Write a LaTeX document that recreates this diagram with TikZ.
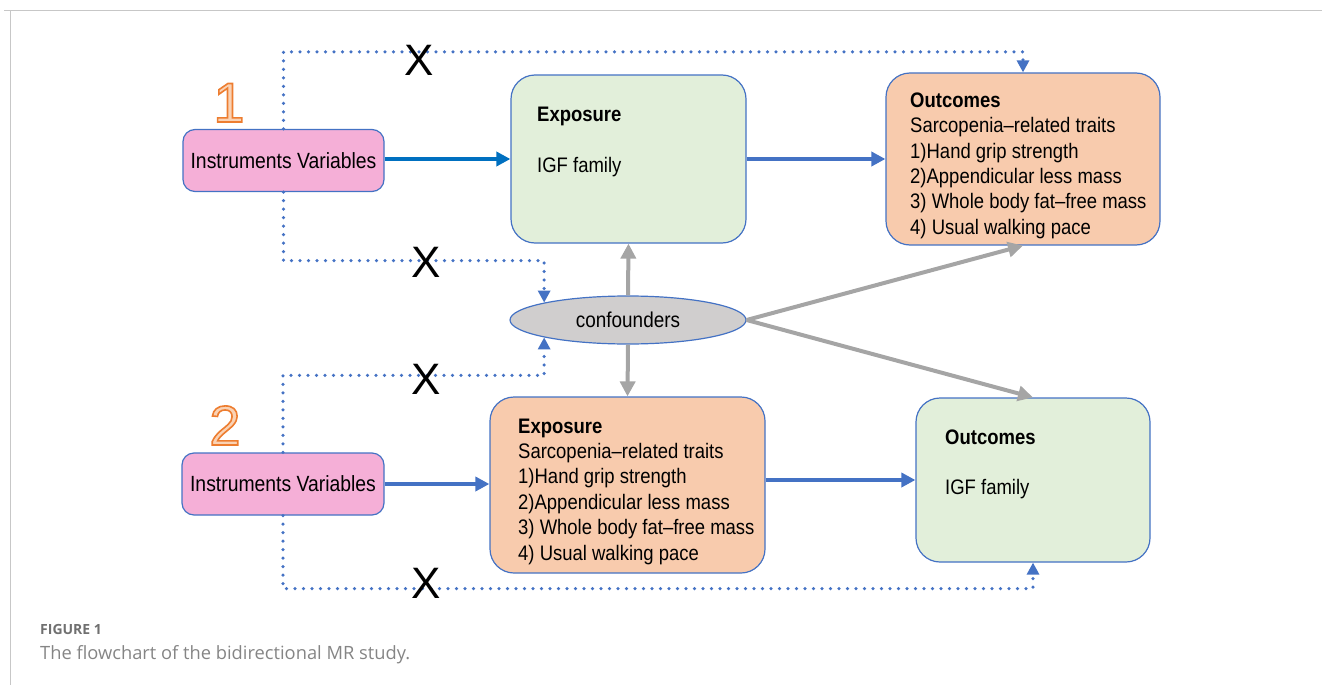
\documentclass[tikz,border=0pt]{standalone}
\usepackage{fontspec}
\usepackage{tikz}
\usetikzlibrary{shapes.geometric, arrows.meta}
\newfontfamily\boxfont[FakeStretch=0.88]{Liberation Sans}
\newfontfamily\plainsans{Liberation Sans}
\newfontfamily\capfont{Open Sans}
\definecolor{bordblue}{HTML}{4472C4}
\definecolor{ivblue}{HTML}{0070C0}
\definecolor{ivpink}{HTML}{F5AFD7}
\definecolor{boxgreen}{HTML}{E2EFDA}
\definecolor{boxpeach}{HTML}{F8CBAD}
\definecolor{confgray}{HTML}{D0CECE}
\definecolor{arrgray}{HTML}{A5A5A5}
\definecolor{numfill}{HTML}{FAD2B4}
\definecolor{capgray}{HTML}{707070}
\newcommand{\outlinenum}[1]{{\color{numfill}\special{pdf:literal direct 0.93 0.49 0.19 RG 1.6 w 2 Tr}#1\special{pdf:literal direct 0 Tr}}}
\tikzset{
  box/.style={draw=bordblue, line width=1.2pt, rounded corners=24pt, inner sep=0pt},
  ivbox/.style={draw=bordblue, line width=1.2pt, rounded corners=12pt, fill=ivpink, inner sep=0pt,
    minimum height=62pt, font={\boxfont\fontsize{22}{26}\selectfont}},
  txt/.style={inner sep=0pt, align=left, font={\boxfont\fontsize{21}{25.4}\selectfont}},
  mainarrow/.style={line width=4pt, -{Triangle[length=14pt,width=14pt]}},
  grayarrow/.style={draw=arrgray, line width=4pt, -{Triangle[length=15pt,width=15pt]}},
  dotarrow/.style={draw=bordblue, line width=3.6pt, line cap=round, dash pattern=on 0pt off 8.5pt,
    -{Triangle[length=12pt,width=12pt,line cap=butt]}},
  xmark/.style={inner sep=0pt, anchor=base, font={\plainsans\fontsize{44}{44}\selectfont}},
  numlabel/.style={inner sep=0pt, anchor=base, font={\plainsans\fontsize{56}{56}\selectfont}}
}
\begin{document}
\begin{tikzpicture}[x=1pt,y=-1pt]
\useasboundingbox (0,0) rectangle (1322,685);
% page frame
\draw[color=black!22, line width=1pt] (4,11) -- (1322,11);
\draw[color=black!22, line width=1pt] (10,11) -- (10,685);

% upper study
\node[ivbox, minimum width=201pt] (iv1) at (283.5,160.5) {Instruments Variables};
\node[numlabel] (n1) at (229,122) {\outlinenum{1}};
\node[box, fill=boxgreen, minimum width=235pt, minimum height=168pt] (ex1) at (628.5,159) {};
\node[txt, anchor=base west] (ex1head) at (537,121.5) {\textbf{Exposure}};
\node[txt, anchor=base west] (ex1txt) at (537,172.5) {IGF family};
\node[box, fill=boxpeach, minimum width=274pt, minimum height=172pt] (oc1) at (1023,159) {};
\node[txt, anchor=north west] (oc1txt) at (910,92.5) {\textbf{Outcomes}\\Sarcopenia–related traits\\1)Hand grip strength\\2)Appendicular less mass\\3) Whole body fat–free mass\\4) Usual walking pace};

% confounders
\node[ellipse, draw=bordblue, line width=1.2pt, fill=confgray, minimum width=236pt, minimum height=48pt,
  inner sep=0pt, font={\boxfont\fontsize{21.5}{24}\selectfont}] (conf) at (628,320) {confounders};

% lower study
\node[ivbox, minimum width=202pt] (iv2) at (283,484) {Instruments Variables};
\node[numlabel] (n2) at (225,445) {\outlinenum{2}};
\node[box, fill=boxpeach, minimum width=275pt, minimum height=176pt] (ex2) at (627.5,485) {};
\node[txt, anchor=north west] (ex2txt) at (518,418.5) {\textbf{Exposure}\\Sarcopenia–related traits\\1)Hand grip strength\\2)Appendicular less mass\\3) Whole body fat–free mass\\4) Usual walking pace};
\node[box, fill=boxgreen, minimum width=234pt, minimum height=164pt] (oc2) at (1033,480) {};
\node[txt, anchor=base west] (oc2head) at (945,444.5) {\textbf{Outcomes}};
\node[txt, anchor=base west] (oc2txt) at (945,494.5) {IGF family};

% causal paths
\draw[mainarrow, draw=ivblue] (iv1.east |- ex1.west) -- (ex1.west);
\draw[mainarrow, draw=bordblue] (ex1.east) -- (oc1.west);
\draw[mainarrow, draw=bordblue] (iv2.east) -- (iv2.east -| ex2.west);
\draw[mainarrow, draw=bordblue] (ex2.east |- oc2.west) -- (oc2.west);

\draw[grayarrow] (conf.north) -- (ex1.south);
\draw[grayarrow] (conf.south) -- (ex2.north);
\draw[grayarrow] (conf.east) -- (oc1.south);
\draw[grayarrow] (conf.east) -- (oc2.north);

% excluded paths
\draw[dotarrow] (iv1.north) -- ++(0,-77) -| (oc1.north);
\draw[dotarrow] (iv1.south) -- ++(0,68.5) -| (conf.north west);
\draw[dotarrow] (iv2.north) -- ++(0,-77) -| (conf.south west);
\draw[dotarrow] (iv2.south) -- ++(0,73) -| (oc2.south);
\node[xmark] (x1) at (419,76) {X};
\node[xmark] (x2) at (426,277) {X};
\node[xmark] (x3) at (426,394) {X};
\node[xmark] (x4) at (426,598) {X};

% caption
\node[inner sep=0pt, anchor=base west, text=capgray, font={\capfont\bfseries\fontsize{14}{16}\selectfont}] (figlabel) at (40,634) {FIGURE 1};
\node[inner sep=0pt, anchor=base west, text=capgray!85, font={\capfont\fontsize{18.3}{22}\selectfont}] (figcaption) at (40,659) {The flowchart of the bidirectional MR study.};
\end{tikzpicture}
\end{document}
